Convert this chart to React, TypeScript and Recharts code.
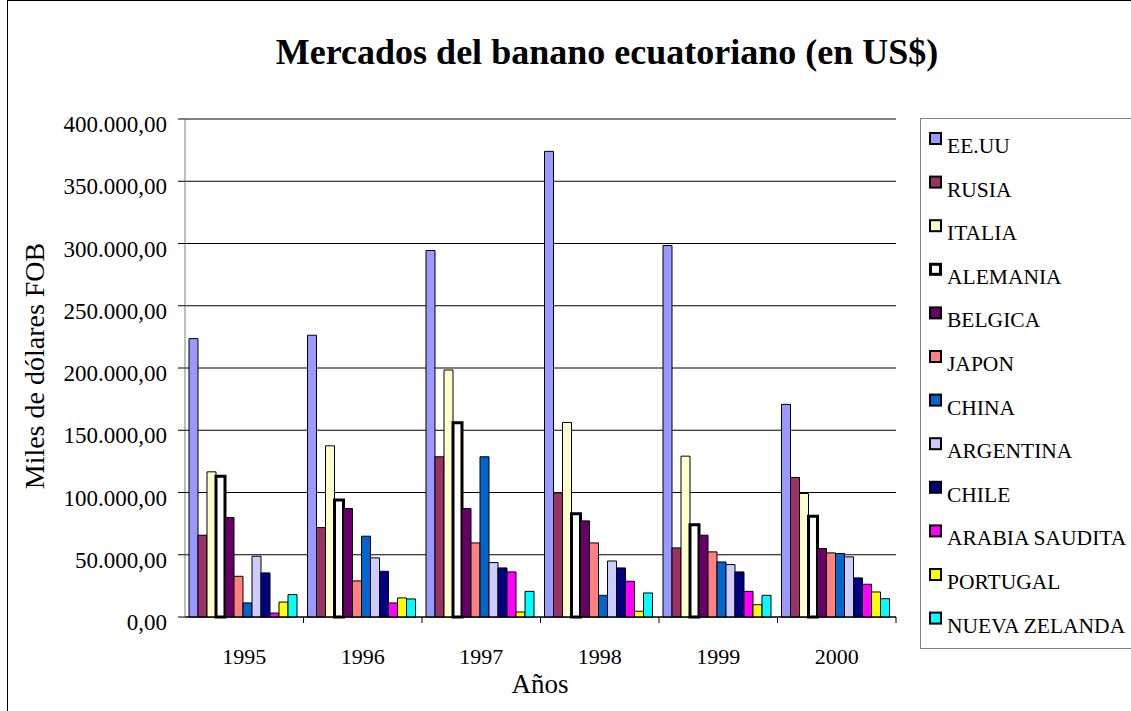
import { BarChart, Bar, XAxis, YAxis, CartesianGrid } from "recharts";

const years = ["1995", "1996", "1997", "1998", "1999", "2000"];

const countries = [
  "EE.UU",
  "RUSIA",
  "ITALIA",
  "ALEMANIA",
  "BELGICA",
  "JAPON",
  "CHINA",
  "ARGENTINA",
  "CHILE",
  "ARABIA SAUDITA",
  "PORTUGAL",
  "NUEVA ZELANDA",
];

const eeuu = [223600, 226300, 294400, 374000, 298400, 170800];
const rusia = [65700, 71800, 128700, 99700, 55500, 112000];
const italia = [116600, 137500, 198400, 156300, 129200, 99200];
const alemania = [113000, 94000, 156000, 83000, 74000, 81000];
const belgica = [79900, 87100, 87100, 77200, 65700, 55000];
const japon = [32700, 29000, 59500, 59500, 52300, 51500];
const china = [11300, 64900, 128700, 17400, 44200, 51000];
const argentina = [48800, 47500, 43700, 45000, 42100, 48300];
const chile = [35400, 36700, 39400, 39400, 36200, 31400];
const arabia = [3200, 11300, 36200, 28700, 20600, 26300];
const portugal = [12000, 15300, 4000, 4600, 9900, 20100];
const nuevaZelanda = [18000, 14500, 20600, 19300, 17400, 14700];

const seriesValues = [
  eeuu,
  rusia,
  italia,
  alemania,
  belgica,
  japon,
  china,
  argentina,
  chile,
  arabia,
  portugal,
  nuevaZelanda,
];

const yTicks = [0, 50000, 100000, 150000, 200000, 250000, 300000, 350000, 400000];

const colors = [
  "#9999FF",
  "#993366",
  "#FFFFCC",
  "#FFFFFF",
  "#660066",
  "#FF8080",
  "#0066CC",
  "#CCCCFF",
  "#000080",
  "#FF00FF",
  "#FFFF00",
  "#00FFFF",
];

const data = years.map((year, i) => {
  const row: any = { year };
  countries.forEach((c, j) => {
    row[c] = seriesValues[j][i];
  });
  return row;
});

const serif = "'Liberation Serif', 'Times New Roman', serif";

function fmt(v: number) {
  const s = Math.round(v).toString().replace(/\B(?=(\d{3})+(?!\d))/g, ".");
  return s + ",00";
}

function YTick(props: any) {
  const { x, y, payload } = props;
  return (
    <text x={x} y={y} dy={13} textAnchor="end" fontSize={23} fontFamily={serif} fill="#000">
      {fmt(payload.value)}
    </text>
  );
}

function XTick(props: any) {
  const { x, y, payload, width } = props;
  const half = width / (years.length * 2);
  return (
    <g>
      <line x1={x + half} x2={x + half} y1={y} y2={y + 6} stroke="#000" />
      <text x={x} y={y + 47} textAnchor="middle" fontSize={22} fontFamily={serif} fill="#000">
        {payload.value}
      </text>
    </g>
  );
}

function LegendBox() {
  return (
    <svg
      width={211}
      height={540}
      style={{ position: "absolute", left: 920, top: 118 }}
    >
      <rect x={0.5} y={0.5} width={260} height={530} fill="#fff" stroke="#808080" />
      {countries.map((c, j) => {
        const top = 14 + j * 43.6;
        const thick = c === "ALEMANIA";
        return (
          <g key={c}>
            <rect
              x={thick ? 10.5 : 10}
              y={thick ? top + 1.5 : top + 1}
              width={thick ? 10 : 11}
              height={thick ? 10 : 11}
              fill={colors[j]}
              stroke="#000"
              strokeWidth={thick ? 3 : 2}
            />
            <text x={27} y={top + 21} fontSize={21.5} fontFamily={serif} fill="#000">
              {c}
            </text>
          </g>
        );
      })}
    </svg>
  );
}

export default function App() {
  return (
    <div
      style={{
        position: "absolute",
        left: 0,
        top: 0,
        width: 1131,
        height: 711,
        overflow: "hidden",
        background: "#fff",
        fontFamily: serif,
      }}
    >
      <div
        style={{
          position: "absolute",
          left: 7,
          top: 0,
          width: 1140,
          height: 720,
          border: "1px solid #000",
        }}
      />
      <div
        style={{
          position: "absolute",
          left: 0,
          width: 1214,
          top: 28,
          textAlign: "center",
          fontSize: 36,
          fontWeight: "bold",
          lineHeight: "48px",
          fontFamily: serif,
        }}
      >
        Mercados del banano ecuatoriano (en US$)
      </div>
      <div
        style={{
          position: "absolute",
          left: 35 - 150,
          top: 366 - 18,
          width: 300,
          height: 36,
          lineHeight: "36px",
          textAlign: "center",
          fontSize: 28,
          fontFamily: serif,
          transform: "rotate(-90deg)",
        }}
      >
        Miles de dólares FOB
      </div>
      <div
        style={{
          position: "absolute",
          left: 440,
          width: 200,
          top: 667,
          textAlign: "center",
          fontSize: 27,
          lineHeight: "34px",
          fontFamily: serif,
        }}
      >
        Años
      </div>

      <div style={{ position: "absolute", left: 0, top: 0 }}>
        <BarChart
          width={1131}
          height={711}
          data={data}
          margin={{ top: 119, right: 235, bottom: 34, left: 85 }}
          barCategoryGap={4}
          barGap={0}
        >
          <CartesianGrid vertical={false} stroke="#000" />
          <XAxis
            dataKey="year"
            height={60}
            tickLine={false}
            tickSize={0}
            tickMargin={0}
            axisLine={{ stroke: "#000" }}
            tick={<XTick />}
            interval={0}
          />
          <YAxis
            width={100}
            domain={[0, 400000]}
            ticks={yTicks}
            tickSize={7}
            tickMargin={11}
            axisLine={{ stroke: "#808080" }}
            tickLine={{ stroke: "#000" }}
            tick={<YTick />}
            interval={0}
          />
          <YAxis
            yAxisId="frame"
            orientation="right"
            width={0}
            domain={[0, 1]}
            tick={false}
            tickLine={false}
            axisLine={{ stroke: "#808080" }}
          />
          {countries.map((c, j) => (
            <Bar
              key={c}
              dataKey={c}
              fill={colors[j]}
              stroke="#000"
              strokeWidth={c === "ALEMANIA" ? 3 : 1}
              isAnimationActive={false}
            />
          ))}
        </BarChart>
      </div>

      <LegendBox />
    </div>
  );
}
